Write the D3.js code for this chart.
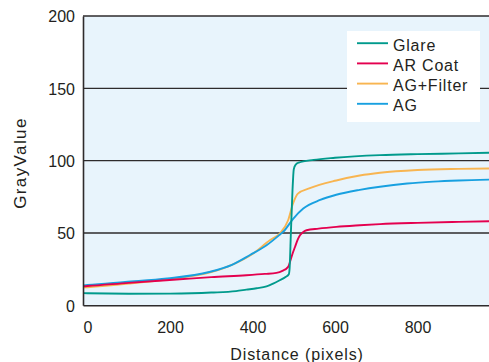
<!DOCTYPE html>
<html>
<head>
<meta charset="utf-8">
<script src="https://cdn.jsdelivr.net/npm/d3@7"></script>
<style>
  body { margin: 0; background: #fff; }
  svg { display: block; font-family: Arial, "Liberation Sans", Helvetica, sans-serif; }
  .tick text { fill: #231f20; font-size: 16px; }
</style>
</head>
<body>
<div id="vis"></div>
<script>
// values
const seriesNames = ["Glare", "AR Coat", "AG+Filter", "AG"];
const xTicks = [0, 200, 400, 600, 800];
const yTicks = [0, 50, 100, 150, 200];

const glareDist = [-11, 0, 100, 200, 300, 360, 385, 410, 434, 450, 466, 480, 488, 490, 493, 497, 500, 504, 512, 548, 600, 709, 800, 900, 1000];
const glareVal  = [8.4, 8.3, 8.0, 8.1, 8.8, 9.8, 10.8, 11.8, 13.1, 15, 17.3, 19.5, 21.5, 26, 50, 80, 94, 97, 98.6, 100.5, 102, 103.8, 104.5, 105, 105.6];

const arDist = [-11, 0, 100, 224, 300, 385, 430, 458, 475, 482, 488, 493, 498, 503, 509, 515, 523, 531, 560, 603, 660, 709, 800, 900, 1000];
const arVal  = [13.1, 13.3, 15.5, 18, 19.5, 20.8, 21.7, 22.4, 24.2, 25.3, 27.5, 32, 36.5, 40.3, 45, 48.4, 50.7, 51.9, 53, 54.2, 55.3, 56.1, 57, 57.7, 58.3];

const agfDist = [-11, 0, 100, 200, 300, 350, 400, 442, 466, 486, 498, 510, 539, 603, 660, 709, 800, 900, 1000];
const agfVal  = [12.3, 12.5, 15, 18.2, 23, 28, 35.5, 45, 49.6, 58.6, 70.2, 77.2, 81, 86.3, 89.7, 91.6, 93.5, 94.3, 94.7];

const agDist = [-11, 0, 91, 193, 295, 350, 394, 434, 466, 475, 499, 523, 564, 603, 660, 709, 775, 838, 900, 1000];
const agVal  = [13.8, 14, 16.1, 18.5, 23, 28, 34.8, 41.5, 48.8, 51, 60, 66.9, 72.8, 76.4, 79.8, 82, 84.2, 85.5, 86.3, 87];

const seriesDist = [glareDist, arDist, agfDist, agDist];
const seriesVal = [glareVal, arVal, agfVal, agVal];

// styles
const colors = { "Glare": "#009a8c", "AR Coat": "#e4004f", "AG+Filter": "#f8b551", "AG": "#18a0e0" };
const drawOrder = ["AG+Filter", "AG", "AR Coat", "Glare"];
const ink = "#231f20";

const [width, height] = [489, 362];
const svg = d3.select("#vis").append("svg")
  .attr("width", width).attr("height", height);

const x = d3.scaleLinear().domain([-11, 1000]).range([83, 500]);
const y = d3.scaleLinear().domain([0, 200]).range([305.3, 16]);

svg.append("rect")
  .attr("x", x(-11)).attr("y", y(200))
  .attr("width", x(1000) - x(-11)).attr("height", y(0) - y(200))
  .attr("fill", "#e8f4fc");

// grid lines at 50..200
svg.append("g").selectAll("line")
  .data(yTicks.filter(d => d > 0))
  .join("line")
    .attr("x1", x(-11)).attr("x2", x(1000))
    .attr("y1", d => y(d)).attr("y2", d => y(d))
    .attr("stroke", "#2e2b2c").attr("stroke-width", 1.4);

const series = seriesNames.map((name, i) => ({
  name,
  points: seriesDist[i].map((d, j) => [d, seriesVal[i][j]])
}));

const line = d3.line()
  .x(d => x(d[0]))
  .y(d => y(d[1]))
  .curve(d3.curveMonotoneX);

svg.append("g").selectAll("path")
  .data(drawOrder.map(n => series.find(s => s.name === n)))
  .join("path")
    .attr("d", d => line(d.points))
    .attr("fill", "none")
    .attr("stroke", d => colors[d.name])
    .attr("stroke-width", 1.9)
    .attr("stroke-linejoin", "round");

// axes
const xAxis = svg.append("g")
  .attr("transform", `translate(0,${y(0)})`)
  .call(d3.axisBottom(x).tickValues(xTicks).tickSize(0).tickSizeOuter(0).tickPadding(16));
const yAxis = svg.append("g")
  .attr("transform", `translate(${x(-11)},0)`)
  .call(d3.axisLeft(y).tickValues(yTicks).tickSize(0).tickSizeOuter(0).tickPadding(8));
[xAxis, yAxis].forEach(a => {
  a.select(".domain").attr("stroke", "#2e2b2c").attr("stroke-width", 1.6);
  a.selectAll(".tick text").attr("font-family", null).attr("font-size", null);
});
xAxis.selectAll(".tick text").attr("dy", "0.71em");
yAxis.selectAll(".tick text").attr("dy", "0.36em");

// axis titles
svg.append("text")
  .attr("x", 297).attr("y", 359.5)
  .attr("text-anchor", "middle")
  .attr("fill", ink).attr("font-size", 16)
  .attr("letter-spacing", 0.9)
  .text("Distance (pixels)");

svg.append("text")
  .attr("transform", "translate(26,163) rotate(-90)")
  .attr("text-anchor", "middle")
  .attr("fill", ink).attr("font-size", 17)
  .attr("letter-spacing", 1.4)
  .text("GrayValue");

// legend
const legend = svg.append("g");
legend.append("rect")
  .attr("x", 347).attr("y", 31).attr("width", 133).attr("height", 91)
  .attr("fill", "#fff");
const items = legend.selectAll("g.item")
  .data(seriesNames)
  .join("g")
    .attr("class", "item")
    .attr("transform", (d, i) => `translate(0,${50.7 + i * 20.2})`);
items.append("line")
  .attr("x1", 357).attr("x2", 388)
  .attr("y1", -7.5).attr("y2", -7.5)
  .attr("stroke", d => colors[d]).attr("stroke-width", 1.9);
items.append("text")
  .attr("x", 393)
  .attr("fill", ink).attr("font-size", 16)
  .attr("letter-spacing", 0.8)
  .text(d => d);
</script>
</body>
</html>
